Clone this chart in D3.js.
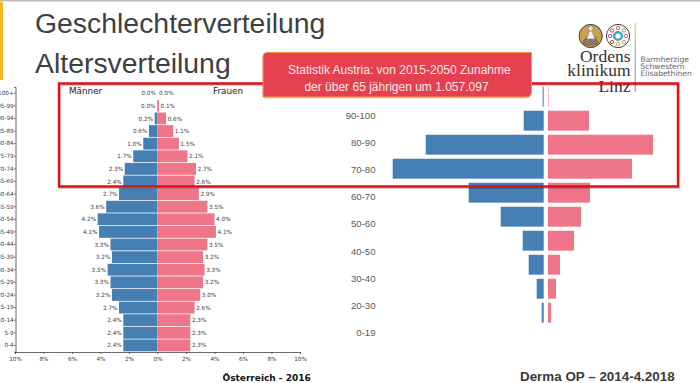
<!DOCTYPE html>
<html><head><meta charset="utf-8">
<script src="https://cdn.jsdelivr.net/npm/d3@7"></script>
<style>html,body{margin:0;padding:0;background:#fff;overflow:hidden}svg{display:block}</style>
</head><body><svg id="c" width="700" height="383"></svg>
<script>
const ageGroups=["100+","95-99","90-94","85-89","80-84","75-79","70-74","65-69","60-64","55-59","50-54","45-49","40-44","35-39","30-34","25-29","20-24","15-19","10-14","5-9","0-4"];
const maleAT=[0.0,0.03,0.2,0.6,1.0,1.7,2.3,2.4,2.7,3.6,4.2,4.1,3.3,3.2,3.5,3.3,3.2,2.7,2.4,2.4,2.4];
const femaleAT=[0.0,0.1,0.6,1.1,1.5,2.1,2.7,2.6,2.9,3.5,4.0,4.1,3.5,3.2,3.3,3.2,3.0,2.6,2.3,2.3,2.3];
const maleLabels=["0.0%","0.0%","0.2%","0.6%","1.0%","1.7%","2.3%","2.4%","2.7%","3.6%","4.2%","4.1%","3.3%","3.2%","3.5%","3.3%","3.2%","2.7%","2.4%","2.4%","2.4%"];
const femaleLabels=["0.0%","0.1%","0.6%","1.1%","1.5%","2.1%","2.7%","2.6%","2.9%","3.5%","4.0%","4.1%","3.5%","3.2%","3.3%","3.2%","3.0%","2.6%","2.3%","2.3%","2.3%"];
const xTicks=[-10,-8,-6,-4,-2,0,2,4,6,8,10];
const opLabels=["90-100","80-90","70-80","60-70","50-60","40-50","30-40","20-30","0-19"];
const opRows=["100+","90-100","80-90","70-80","60-70","50-60","40-50","30-40","20-30","0-19b"];
const maleOP=[1,20,118,151,75,43,21,15,7,2];
const femaleOP=[0.5,41,105,84,42,33,26,12,8,3];
const titleLines=["Geschlechterverteilung","Altersverteilung"];
const calloutLines=["Statistik Austria: von 2015-2050 Zunahme","der über 65 jährigen um 1.057.097"];
const logoLines=["Ordens","klinikum","Linz"];
const logoSub=["Barmherzige","Schwestern","Elisabethinen"];

const BLUE="#457fb3",PINK="#ef7688",INK="#404040";
const svg=d3.select("#c");
const sans="'Liberation Sans',Arial,sans-serif",dv="'DejaVu Sans',sans-serif",serif="'Liberation Serif',serif";

svg.append("rect").attr("width",700).attr("height",1.5).attr("fill","#bdbdbd");
svg.append("rect").attr("x",0).attr("y",2).attr("width",3).attr("height",78).attr("fill","#f5b81f");
svg.selectAll("text.title").data(titleLines).join("text").attr("class","title")
 .attr("x",35).attr("y",(d,i)=>i?73:33).attr("font-family",sans).attr("font-size",28.4).attr("fill",INK).text(d=>d);

// left pyramid
const x=d3.scaleLinear().domain([-10,10]).range([15,300]);
const y=d3.scaleBand().domain(ageGroups).range([86.9,351.7]).paddingInner(0.06).paddingOuter(0.03);
const L=svg.append("g");
L.selectAll("rect.m").data(ageGroups).join("rect").attr("fill",BLUE)
 .attr("x",(d,i)=>x(-maleAT[i])).attr("y",d=>y(d)).attr("height",y.bandwidth())
 .attr("width",(d,i)=>x(0)-x(-maleAT[i]));
L.selectAll("rect.f").data(ageGroups).join("rect").attr("fill",PINK)
 .attr("x",x(0)).attr("y",d=>y(d)).attr("height",y.bandwidth())
 .attr("width",(d,i)=>x(femaleAT[i])-x(0));
const lab=(g,arr,vals,sign)=>g.selectAll(null).data(arr).join("text")
 .attr("x",(d,i)=>x(sign*vals[i])+sign*1.6).attr("y",(d,i)=>y(ageGroups[i])+y.bandwidth()/2+2.1)
 .attr("text-anchor",sign<0?"end":"start").attr("font-family",dv).attr("font-size",5.7).attr("fill","#3c3c3c").text(d=>d);
lab(L,maleLabels,maleAT,-1);lab(L,femaleLabels,femaleAT,1);
const ax=d3.axisBottom(x).tickValues(xTicks).tickSize(2).tickFormat(d=>Math.abs(d)+"%");
const gx=L.append("g").attr("transform","translate(0,352)").call(ax);
const ay=d3.axisLeft(y).tickSize(1.5).tickPadding(0.3);
const gy=L.append("g").attr("transform","translate(15.5,0)").call(ay);
[gx,gy].forEach(g=>{g.selectAll("text").attr("font-family",dv).attr("font-size",5.7).attr("fill","#3c3c3c");
 g.selectAll("path,line").attr("stroke","#444").attr("stroke-width",0.8);});
L.append("text").attr("x",69).attr("y",94).attr("font-family",dv).attr("font-size",8.8).attr("fill","#222").text("Männer");
L.append("text").attr("x",213).attr("y",94).attr("font-family",dv).attr("font-size",8.8).attr("fill","#222").text("Frauen");
L.append("text").attr("x",222.5).attr("y",381).attr("font-family",dv).attr("font-weight","bold").attr("font-size",9).attr("fill","#111").text("Österreich - 2016");

// right pyramid
const xm=d3.scaleLinear().domain([0,151]).range([543.7,392.7]);
const xf=d3.scaleLinear().domain([0,105]).range([548,653]);
const yb=d3.scaleBand().domain(opRows).range([84.8,324.6]).paddingInner(0.17).paddingOuter(0.08);
const R=svg.append("g");
R.selectAll("rect.m").data(opRows).join("rect").attr("fill",BLUE)
 .attr("x",(d,i)=>xm(maleOP[i])).attr("y",d=>yb(d)).attr("height",yb.bandwidth())
 .attr("width",(d,i)=>xm(0)-xm(maleOP[i]));
R.selectAll("rect.f").data(opRows).join("rect").attr("fill",PINK)
 .attr("x",xf(0)).attr("y",d=>yb(d)).attr("height",yb.bandwidth())
 .attr("width",(d,i)=>xf(femaleOP[i])-xf(0));
const yl=d3.scalePoint().domain(opLabels).range([115,332.7]);
R.selectAll("text.op").data(opLabels).join("text").attr("class","op")
 .attr("x",375.5).attr("y",d=>yl(d)+3.5).attr("text-anchor","end")
 .attr("font-family",sans).attr("font-size",9.6).attr("fill","#595959").text(d=>d);
R.append("text").attr("x",520).attr("y",381).attr("font-family",sans).attr("font-weight","bold").attr("font-size",13.4).attr("fill","#3a3a3a").text("Derma OP – 2014-4.2018");

// logo
const G=svg.append("g");
const medal=[[590.7,36,"#c9a24b"],[618,36,"#fff"]];
G.selectAll("circle.md").data(medal).join("circle").attr("class","md").attr("cx",d=>d[0]).attr("cy",d=>d[1]).attr("r",11.6)
 .attr("fill",d=>d[2]).attr("stroke","#3c3c3c").attr("stroke-width",1);
G.append("path").attr("d","M583 44 Q584 36 590.7 36 Q597 36 598 44 Q590.7 47 583 44 Z").attr("fill","#8a7a68").attr("stroke","#555").attr("stroke-width",.5);
G.append("path").attr("d","M586.5 39 L590.7 28 L595 39 Z").attr("fill","#eee").attr("stroke","#777").attr("stroke-width",.5);
G.append("circle").attr("cx",590.7).attr("cy",28.5).attr("r",2.6).attr("fill","#e8e4d8").attr("stroke","#555").attr("stroke-width",.5);
const dots=[[618,28,"#e05a8a"],[624,30.5,"#6fb544"],[626,36,"#e05a8a"],[624,42,"#e8a33a"],[618,44,"#e8a33a"],[612,42,"#d9443a"],[610,36,"#b05aa8"],[612,30.5,"#d9443a"]];
G.selectAll("circle.dt").data(dots).join("circle").attr("class","dt").attr("cx",d=>d[0]).attr("cy",d=>d[1]).attr("r",1.7)
 .attr("fill","none").attr("stroke",d=>d[2]).attr("stroke-width",1);
G.append("circle").attr("cx",618).attr("cy",36).attr("r",3.8).attr("fill","none").attr("stroke","#3ca9c9").attr("stroke-width",2.4);
const grad=svg.append("defs").append("linearGradient").attr("id","lg").attr("x1",0).attr("x2",0).attr("y1",0).attr("y2",1);
[["0","#f0d060"],["0.5","#70c0c0"],["1","#d080b0"]].forEach(s=>grad.append("stop").attr("offset",s[0]).attr("stop-color",s[1]));
G.append("rect").attr("x",634.6).attr("y",23).attr("width",1.2).attr("height",69).attr("fill","url(#lg)");
G.selectAll("text.ll").data(logoLines).join("text").attr("class","ll").attr("x",630.5).attr("y",(d,i)=>[61.7,76,92][i])
 .attr("text-anchor","end").attr("font-family",serif).attr("font-size",17.5).attr("fill","#333").text(d=>d);
G.selectAll("text.ls").data(logoSub).join("text").attr("class","ls").attr("x",640.5).attr("y",(d,i)=>61.7+i*7.2)
 .attr("font-family",dv).attr("font-size",7.6).attr("fill","#666").text(d=>d);

// red frame
const f=d3.path();f.rect(59,83.5,619,103);
svg.append("path").attr("d",f.toString()).attr("fill","none").attr("stroke","#00000030").attr("stroke-width",2.5).attr("transform","translate(1,1.2)");
svg.append("path").attr("d",f.toString()).attr("fill","none").attr("stroke","#dd1016").attr("stroke-width",2.4);

// callout
svg.append("rect").attr("x",263.5).attr("y",53).attr("width",268).attr("height",44).attr("rx",4).attr("fill","#00000030").attr("transform","translate(-1,1.5)");
svg.append("path").attr("d","M267 52.5 H531.5 V92 Q531.5 97 526 97 H263 V56.5 Q263 52.5 267 52.5 Z").attr("fill","#e5404f").attr("stroke","#ee9a3c").attr("stroke-width",1);
svg.selectAll("text.co").data(calloutLines).join("text").attr("class","co")
 .attr("x",(d,i)=>i?396.5:399.3).attr("y",(d,i)=>73.8+i*16.8).attr("text-anchor","middle").attr("font-family",sans).attr("font-size",12).attr("fill","#fde8e8").text(d=>d);
</script></body></html>
